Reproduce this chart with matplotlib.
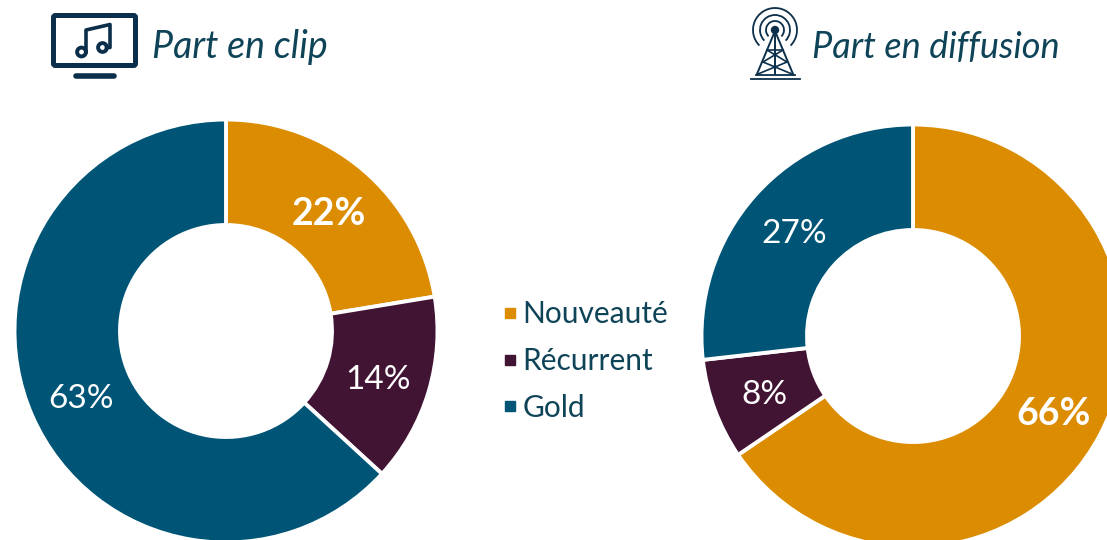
import matplotlib
matplotlib.use("Agg")
import matplotlib.pyplot as plt
from matplotlib.lines import Line2D
from matplotlib.patches import Arc, Circle, FancyBboxPatch

plt.rcParams["font.family"] = ["Lato", "DejaVu Sans"]

categories = ["Nouveauté", "Récurrent", "Gold"]
clip_values = [22.4, 14.4, 63.2]
diffusion_values = [65.5, 7.7, 26.8]
chart_titles = ["Part en clip", "Part en diffusion"]

colors = ["#DC8C00", "#421433", "#005577"]
text_color = "#0F4458"
icon_color = "#0B2F4A"


def donut(ax, values, center, bold_index):
    wedges, _, pct = ax.pie(
        values,
        colors=colors,
        center=center,
        radius=211.5,
        startangle=-90,  # y axis is flipped, so this is 12 o'clock
        counterclock=True,
        autopct="%.0f%%",
        pctdistance=0.75,
        wedgeprops={"width": 105.5, "edgecolor": "white", "linewidth": 2.8},
        textprops={"color": "white", "fontsize": 24},
    )
    for t in pct:
        x, y = t.get_position()
        t.set_position((x, y + 4))
    pct[bold_index].set_fontweight("bold")
    pct[bold_index].set_fontsize(27)
    return wedges


def tv_icon(ax):
    ax.add_patch(FancyBboxPatch((53.5, 15.5), 82, 50, boxstyle="round,pad=0,rounding_size=2",
                                fc="none", ec=icon_color, lw=3.6))
    ax.plot([76, 114], [75.5, 75.5], color=icon_color, lw=4, solid_capstyle="round")
    ax.add_patch(Circle((81.5, 52), 4.4, fc="none", ec=icon_color, lw=2.8))
    ax.add_patch(Circle((102.5, 47.5), 4.4, fc="none", ec=icon_color, lw=2.8))
    ax.plot([86, 86, 110, 110, 106.5], [52, 30, 24.5, 47.5, 47.5], color=icon_color, lw=2.6)


def tower_icon(ax):
    cx, cy = 775, 30
    for r in [9, 15, 22]:
        ax.add_patch(Arc((cx, cy), 2 * r, 2 * r, theta1=135, theta2=405, ec=icon_color, lw=1.3))
    ax.add_patch(Circle((cx, cy), 4.2, fc=icon_color, ec="none"))
    ax.plot([757, 775, 793], [74, 31, 74], color=icon_color, lw=1.4)
    ax.plot([775, 775], [31, 74], color=icon_color, lw=1.4)
    ax.plot([767, 783], [50, 50], color=icon_color, lw=1.2)
    ax.plot([767, 787, 758], [50, 62, 74], color=icon_color, lw=1.2)
    ax.plot([783, 763, 792], [50, 62, 74], color=icon_color, lw=1.2)
    ax.plot([756, 795], [75, 75], color=icon_color, lw=1.3)
    ax.plot([751, 800], [79, 79], color=icon_color, lw=1.3)


def main() -> None:
    fig = plt.figure(figsize=(11.07, 5.40), dpi=100)
    ax = fig.add_axes([0, 0, 1, 1])

    donut(ax, clip_values, (226, 331), 0)
    donut(ax, diffusion_values, (913, 336), 0)

    ax.set_xlim(0, 1107)
    ax.set_ylim(540, 0)
    ax.set_aspect("equal")
    ax.axis("off")

    ax.text(152, 47, chart_titles[0], fontsize=27, style="italic",
            color=text_color, va="center", ha="left")
    ax.text(812, 47, chart_titles[1], fontsize=26, style="italic",
            color=text_color, va="center", ha="left")
    tv_icon(ax)
    tower_icon(ax)

    handles = [Line2D([], [], ls="", marker="s", ms=7, color=c) for c in colors]
    leg = ax.legend(handles, categories, loc="center left", bbox_to_anchor=(498 / 1107, 1 - 361 / 540),
                    frameon=False, fontsize=21.5, labelspacing=0.62, handlelength=0.8,
                    handletextpad=0.02, borderpad=0, borderaxespad=0)
    for t in leg.get_texts():
        t.set_color(text_color)

    fig.savefig("out.png", dpi=100)


if __name__ == "__main__":
    main()
